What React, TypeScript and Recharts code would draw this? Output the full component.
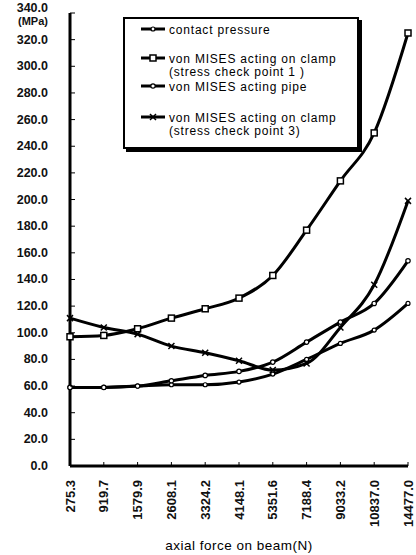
import { CartesianGrid, Legend, Line, LineChart, XAxis, YAxis } from 'recharts'

const forces = ['275.3', '919.7', '1579.9', '2608.1', '3324.2', '4148.1', '5351.6', '7188.4', '9033.2', '10837.0', '14477.0']
const contactPressure = [59, 59, 60, 61, 61, 63, 69, 80, 92, 102, 122]
const clampPoint1 = [97, 98, 103, 111, 118, 126, 143, 177, 214, 250, 325]
const pipeStress = [59, 59, 60, 64, 68, 71, 78, 93, 108, 122, 154]
const clampPoint3 = [111, 104, 99, 90, 85, 79, 72, 77, 104, 136, 199]
const yTicks = [0, 20, 40, 60, 80, 100, 120, 140, 160, 180, 200, 220, 240, 260, 280, 300, 320, 340]

const data = forces.map((f, i) => ({
  force: f,
  contact: contactPressure[i],
  clamp1: clampPoint1[i],
  pipe: pipeStress[i],
  clamp3: clampPoint3[i],
}))

const FONT = '"Liberation Sans", Arial, sans-serif'

type Marker = 'circle' | 'square' | 'smallCircle' | 'cross'

function drawMarker(kind: Marker, cx: number, cy: number, key?: string) {
  if (kind === 'square')
    return <rect key={key} x={cx - 3} y={cy - 3} width={6} height={6} fill="#fff" stroke="#000" strokeWidth={1.5} />
  if (kind === 'cross')
    return (
      <g key={key}>
        <line x1={cx - 3} y1={cy - 3} x2={cx + 3} y2={cy + 3} stroke="#000" strokeWidth={1.5} />
        <line x1={cx - 3} y1={cy + 3} x2={cx + 3} y2={cy - 3} stroke="#000" strokeWidth={1.5} />
      </g>
    )
  const r = kind === 'circle' ? 2.2 : 2
  return <circle key={key} cx={cx} cy={cy} r={r} fill="#fff" stroke="#000" strokeWidth={1.2} />
}

const makeDot = (kind: Marker) => (props: any) => {
  const { cx, cy, index } = props
  if (cx == null || cy == null) return <g key={`e${index}`} />
  return drawMarker(kind, cx, cy, `${kind}${index}`)
}

const legendItems: Array<{ lines: string[]; marker: Marker }> = [
  { lines: ['contact pressure'], marker: 'smallCircle' },
  { lines: ['von MISES acting on clamp', '(stress check point 1 )'], marker: 'square' },
  { lines: ['von MISES acting pipe'], marker: 'circle' },
  { lines: ['von MISES acting on clamp', '(stress check point 3)'], marker: 'cross' },
]
const legendRowTop = [4, 33, 61, 92]

function LegendBox() {
  return (
    <svg width={232} height={128} style={{ display: 'block' }}>
      {legendItems.map((item, i) => {
        const y = legendRowTop[i] + 6
        return (
          <g key={i}>
            <line x1={16} y1={y} x2={40} y2={y} stroke="#000" strokeWidth={3} />
            {drawMarker(item.marker, 28, y)}
            {item.lines.map((t, j) => (
              <text key={j} x={44} y={y + 4.5 + j * 13.5} fontSize={12} letterSpacing={0.8} fontFamily={FONT} fill="#000">
                {t}
              </text>
            ))}
          </g>
        )
      })}
    </svg>
  )
}

function YTick(props: any) {
  const { x, y, payload } = props
  const top = payload.value === 340
  return (
    <g>
      <line x1={x + 22} y1={y} x2={x + 27} y2={y} stroke="#000" strokeWidth={1} />
      <text x={x} y={top ? y - 1 : y + 4} textAnchor="end" fontSize={12.5} fontWeight="bold" fontFamily={FONT} fill="#111">
        {payload.value.toFixed(1)}
      </text>
      {top && (
        <text x={x} y={y + 12} textAnchor="end" fontSize={11} fontWeight="bold" fontFamily={FONT} fill="#111">
          (MPa)
        </text>
      )}
    </g>
  )
}

function XTick(props: any) {
  const { x, y, payload } = props
  return (
    <g>
      <line x1={x} y1={y - 14} x2={x} y2={y - 18} stroke="#000" strokeWidth={1} />
      <text
        x={x}
        y={y}
        dy="0.35em"
        textAnchor="end"
        transform={`rotate(-90, ${x}, ${y})`}
        fontSize={13}
        fontWeight="bold"
        fontFamily={FONT}
        fill="#111"
      >
        {payload.value}
      </text>
    </g>
  )
}

export default function App() {
  return (
    <div style={{ position: 'absolute', left: 0, top: 0, background: '#fff' }}>
      <LineChart width={416} height={555} data={data} margin={{ top: 13, right: 8, bottom: 0, left: 0 }}>
        <CartesianGrid horizontal={false} vertical={false} />
        <XAxis
          dataKey="force"
          interval={0}
          axisLine={{ stroke: '#000', strokeWidth: 3 }}
          tickLine={false}
          tickSize={0}
          tickMargin={14}
          tick={<XTick />}
          height={89}
          label={{ value: 'axial force on beam(N)', position: 'insideBottom', offset: 5, fontSize: 13.5, letterSpacing: 0.5, fontFamily: FONT, fill: '#000' }}
        />
        <XAxis xAxisId="top" dataKey="force" orientation="top" height={0} tick={false} tickLine={false} axisLine={{ stroke: '#000', strokeWidth: 2 }} />
        <YAxis
          domain={[0, 340]}
          ticks={yTicks}
          interval={0}
          width={70}
          axisLine={{ stroke: '#000', strokeWidth: 3 }}
          tickLine={false}
          tickSize={0}
          tickMargin={22}
          tick={<YTick />}
        />
        <YAxis yAxisId="right" orientation="right" width={0} domain={[0, 340]} tick={false} tickLine={false} axisLine={{ stroke: '#000', strokeWidth: 4 }} />
        <Legend
          layout="horizontal"
          verticalAlign="middle"
          align="center"
          content={() => <LegendBox />}
          wrapperStyle={{ position: 'absolute', left: 123, top: 17, width: 232, height: 128, border: '2px solid #000', boxShadow: '3px 3px 0 #000', background: '#fff' }}
        />
        <Line dataKey="contact" name="contact pressure" type="monotone" stroke="#000" strokeWidth={3} dot={makeDot('smallCircle')} isAnimationActive={false} />
        <Line dataKey="clamp1" name="von MISES acting on clamp (stress check point 1)" type="monotone" stroke="#000" strokeWidth={3} dot={makeDot('square')} isAnimationActive={false} />
        <Line dataKey="pipe" name="von MISES acting pipe" type="monotone" stroke="#000" strokeWidth={3} dot={makeDot('circle')} isAnimationActive={false} />
        <Line dataKey="clamp3" name="von MISES acting on clamp (stress check point 3)" type="monotone" stroke="#000" strokeWidth={3} dot={makeDot('cross')} isAnimationActive={false} />
      </LineChart>
    </div>
  )
}
